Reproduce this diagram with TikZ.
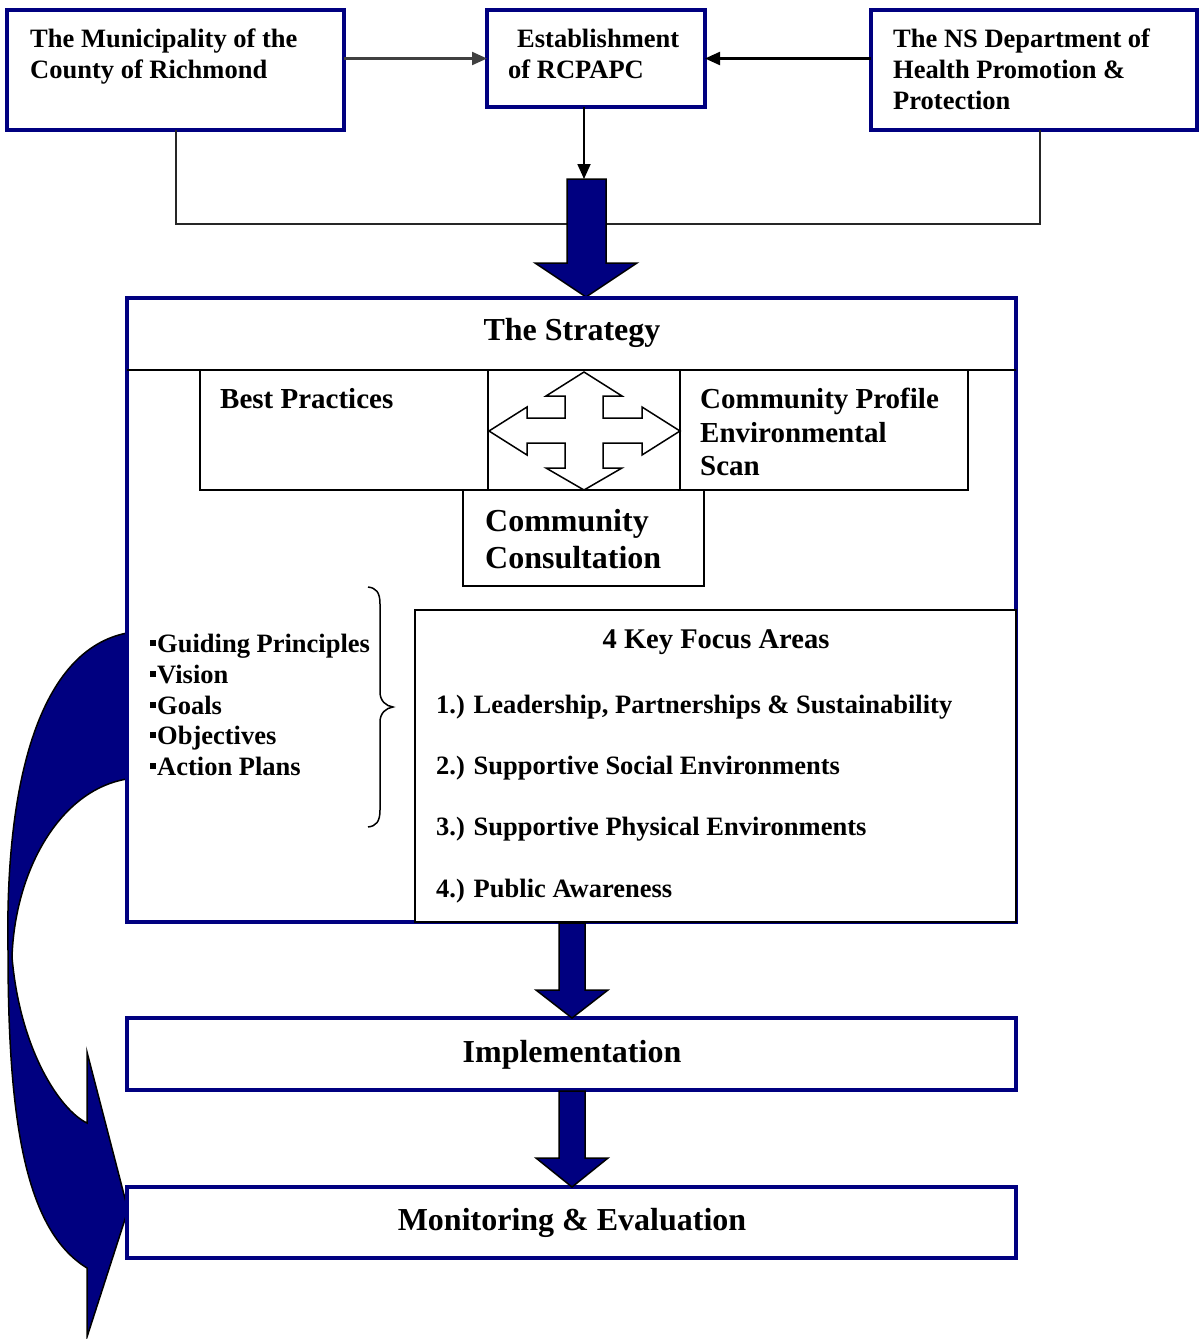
\documentclass[tikz,border=0pt]{standalone}
\usepackage{fontspec}
\setmainfont{Liberation Serif}
\usetikzlibrary{arrows.meta}
\definecolor{navy}{RGB}{0,0,128}
\begin{document}
\begin{tikzpicture}[x=1pt,y=-1pt,
  nbox/.style={draw=navy, line width=3.5pt, fill=white, inner sep=0pt, outer sep=0pt, anchor=north west},
  kbox/.style={draw=black, line width=1.8pt, fill=white, inner sep=0pt, outer sep=0pt, anchor=north west},
  txt/.style={anchor=base west, inner sep=0pt, font=\fontsize{26.5}{31}\selectfont\bfseries},
  ctxt/.style={anchor=base, inner sep=0pt, font=\fontsize{32}{37}\selectfont\bfseries},
  conn/.style={line width=2.2pt, -{Triangle[length=15pt,width=13pt]}},
  link/.style={line width=2pt, black!85},
  barrow/.style={fill=navy, draw=black, line width=1.5pt, line join=miter},
  bul/.style={txt}
]
\useasboundingbox (0,0) rectangle (1199,1339);

\coordinate (j1) at (176,224);
\coordinate (j2) at (1040,224);
\coordinate (a1top) at (584,179);

% top boxes
\node[nbox, minimum width=337pt, minimum height=120pt] (muni) at (7,10) {};
\node[nbox, minimum width=218pt, minimum height=97pt] (estab) at (487,10) {};
\node[nbox, minimum width=326pt, minimum height=120pt] (nsd) at (871,10) {};

\draw[link] (muni.south -| j1) -- (j1) -- (j2) -- (nsd.south -| j2);

\draw[conn, black!75] (muni.east |- estab.west) -- (estab.west);
\draw[conn] (nsd.west |- estab.east) -- (estab.east);
\draw[conn, line width=1.8pt] (estab.south -| a1top) -- (a1top);

% top block arrow
\filldraw[barrow] (567,179) -- (606,179) -- (606,263) -- (637,263) -- (586,297) -- (535,263) -- (567,263) -- cycle;

% curved arrow on the left
\filldraw[barrow] (127,633) .. controls (40,650) and (5,780) .. (8,950)
  .. controls (8,1120) and (25,1230) .. (87,1268)
  -- (87,1337) -- (128,1210) -- (87,1052) -- (87,1123)
  .. controls (60,1110) and (20,1050) .. (12,957)
  .. controls (15,870) and (60,790) .. (127,779) -- cycle;

% strategy box
\node[nbox, minimum width=889pt, minimum height=624pt] (strat) at (127,298) {};
\coordinate (sl) at (127,370);
\coordinate (sr) at (1016,370);
\draw[line width=1.8pt] (sl) -- (sr);
\node[ctxt] (stratT) at (572,340) {The Strategy};

\node[kbox, minimum width=288pt, minimum height=120pt] (best) at (200,370) {};
\node[kbox, minimum width=192pt, minimum height=120pt] (crossb) at (488,370) {};
\node[kbox, minimum width=288pt, minimum height=120pt] (prof) at (680,370) {};
\node[kbox, minimum width=241pt, minimum height=96pt] (consult) at (463,490) {};

\node[txt, font=\fontsize{29}{33}\selectfont\bfseries] (bestT) at (220,408) {Best Practices};
\node[txt, font=\fontsize{29}{33}\selectfont\bfseries] (profT1) at (700,408) {Community Profile};
\node[txt, font=\fontsize{29}{33}\selectfont\bfseries] (profT2) at (700,442) {Environmental};
\node[txt, font=\fontsize{29}{33}\selectfont\bfseries] (profT3) at (700,475) {Scan};
\node[txt, font=\fontsize{32}{37}\selectfont\bfseries] (consT1) at (485,531) {Community};
\node[txt, font=\fontsize{32}{37}\selectfont\bfseries] (consT2) at (485,568) {Consultation};

% four-way arrow
\draw[line width=1.5pt, fill=white, line join=miter]
  (584,372) -- (622,396) -- (603,396) -- (603,418) -- (642,418) -- (642,407) -- (680,431)
  -- (642,455) -- (642,443) -- (603,443) -- (603,468) -- (622,468) -- (584,490)
  -- (546,468) -- (565,468) -- (565,443) -- (527,443) -- (527,455) -- (489,431)
  -- (527,407) -- (527,418) -- (565,418) -- (565,396) -- (546,396) -- cycle;

% bullet list
\newcommand\sqb{\rule[6pt]{6pt}{6pt}\hspace{1pt}}
\node[bul] (l1) at (150,652) {\sqb Guiding Principles};
\node[bul] (l2) at (150,683) {\sqb Vision};
\node[bul] (l3) at (150,714) {\sqb Goals};
\node[bul] (l4) at (150,744) {\sqb Objectives};
\node[bul] (l5) at (150,775) {\sqb Action Plans};

% brace
\draw[line width=1.5pt] (368,587) .. controls (376,588) and (380,592) .. (380,604) -- (380,692)
  .. controls (380,701) and (386,706) .. (393,707) .. controls (386,708) and (380,713) .. (380,722)
  -- (380,810) .. controls (380,822) and (376,826) .. (368,827);

% focus box
\node[kbox, minimum width=601pt, minimum height=312pt] (focus) at (415,610) {};
\node[anchor=base, inner sep=0pt, font=\fontsize{28.5}{31}\selectfont\bfseries] (focT) at (716,648) {4 Key Focus Areas};
\node[txt] (f1) at (436,713) {1.) Leadership, Partnerships \& Sustainability};
\node[txt] (f2) at (436,774) {2.) Supportive Social Environments};
\node[txt] (f3) at (436,835) {3.) Supportive Physical Environments};
\node[txt] (f4) at (436,897) {4.) Public Awareness};

% implementation and monitoring
\node[nbox, minimum width=889pt, minimum height=72pt] (impl) at (127,1018) {};
\node[nbox, minimum width=889pt, minimum height=71pt] (mon) at (127,1187) {};
\node[ctxt] (implT) at (572,1062) {Implementation};
\node[ctxt] (monT) at (572,1230) {Monitoring \& Evaluation};

% lower block arrows
\filldraw[barrow] (559,923) -- (585,923) -- (585,990) -- (608,990) -- (572,1018) -- (536,990) -- (559,990) -- cycle;
\filldraw[barrow] (559,1091) -- (585,1091) -- (585,1158) -- (608,1158) -- (572,1187) -- (536,1158) -- (559,1158) -- cycle;

% top box texts
\node[txt] (mt1) at (30,47) {The Municipality of the};
\node[txt] (mt2) at (30,78) {County of Richmond};
\node[txt] (et1) at (517,47) {Establishment};
\node[txt] (et2) at (508,78) {of RCPAPC};
\node[txt] (nt1) at (893,47) {The NS Department of};
\node[txt] (nt2) at (893,78) {Health Promotion \&};
\node[txt] (nt3) at (893,109) {Protection};
\end{tikzpicture}
\end{document}
